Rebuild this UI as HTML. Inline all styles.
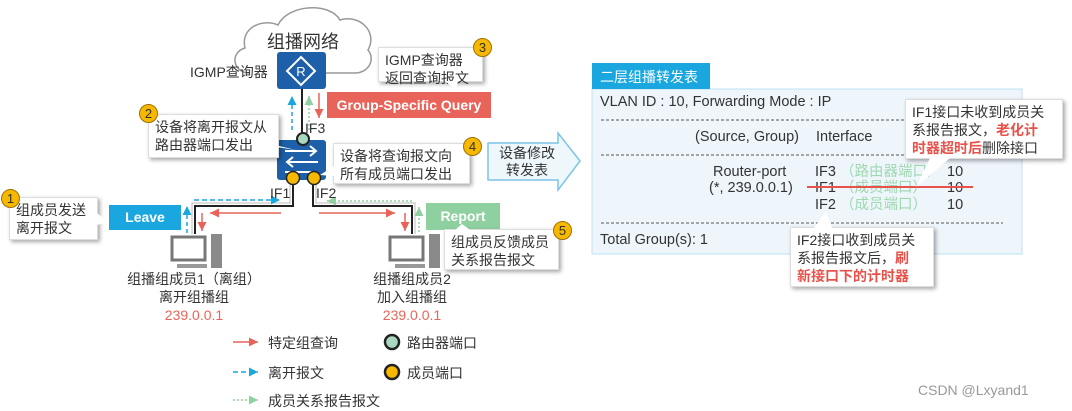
<!DOCTYPE html>
<html><head><meta charset="utf-8"><style>
body{margin:0;width:1072px;height:409px;background:#fff;position:relative;overflow:hidden;font-family:"Liberation Sans","Noto Sans CJK SC",sans-serif;color:#333}
.a{position:absolute;white-space:nowrap}
.co{position:absolute;background:#fff;box-shadow:2px 2px 4px rgba(0,0,0,.35);border:1px solid #ddd;font-size:14px;line-height:18px;padding:3px 6px;color:#333;box-sizing:border-box}
.num{position:absolute;width:17px;height:17px;border-radius:50%;background:#f6b800;border:1px solid #a07000;font-size:13px;line-height:17px;text-align:center;color:#333;z-index:3}
.red{color:#e8524a;font-weight:bold}
.g{color:#9fd8b0}
.t{font-size:14.5px;position:absolute;white-space:nowrap;line-height:17px}
</style></head><body>
<svg width="1072" height="409" style="position:absolute;left:0;top:0">
<defs>
<marker id="mr" markerWidth="8" markerHeight="8" refX="6" refY="3" orient="auto"><path d="M0,0L6,3L0,6z" fill="#e8645a"/></marker>
<marker id="mb" markerWidth="8" markerHeight="8" refX="6" refY="3" orient="auto"><path d="M0,0L6,3L0,6z" fill="#1aa7e0"/></marker>
<marker id="mg" markerWidth="8" markerHeight="8" refX="6" refY="3" orient="auto"><path d="M0,0L6,3L0,6z" fill="#8fd0a0"/></marker>
</defs>
<path d="M250,73 C232,73 230,52 245,48 C240,28 262,18 278,25 C288,4 330,2 340,20 C360,14 378,32 368,50 C376,60 368,73 355,73 L326,73" fill="#fff" stroke="#999" stroke-width="1.5"/>
<rect x="277" y="52" width="49" height="37" rx="3" fill="#1d5fa8"/>
<path d="M301,57L315,71L301,85L287,71z" fill="none" stroke="#fff" stroke-width="2"/>
<text x="301" y="76" font-size="13" fill="#fff" text-anchor="middle" font-family="Liberation Sans">R</text>
<line x1="302" y1="89" x2="302" y2="134" stroke="#222" stroke-width="2"/>
<line x1="292" y1="130" x2="292" y2="96" stroke="#1aa7e0" stroke-width="1.5" stroke-dasharray="4,3" marker-end="url(#mb)"/>
<line x1="309" y1="130" x2="309" y2="96" stroke="#8fd0a0" stroke-width="1.5" stroke-dasharray="2,2" marker-end="url(#mg)"/>
<line x1="319" y1="93" x2="319" y2="118" stroke="#e8645a" stroke-width="1.5" marker-end="url(#mr)"/>
<rect x="277" y="140" width="49" height="40" rx="3" fill="#1d5fa8"/>
<path d="M285,151h31M310,146l6,5l-6,5M318,162h-31M293,157l-6,5l6,5M285,172h31" stroke="#fff" stroke-width="2" fill="none"/>
<circle cx="303" cy="139" r="6" fill="#a9d8c0" stroke="#222" stroke-width="2"/>
<circle cx="293" cy="178" r="6.5" fill="#f6b800" stroke="#222" stroke-width="1.5"/>
<circle cx="314" cy="178" r="6.5" fill="#f6b800" stroke="#222" stroke-width="1.5"/>
<path d="M293,185V206H195V234" fill="none" stroke="#222" stroke-width="2"/>
<path d="M290,185V203H192V234" fill="none" stroke="#bbb" stroke-width="1"/>
<path d="M313,185V206H412V234" fill="none" stroke="#222" stroke-width="2"/>
<path d="M316,185V203H415V234" fill="none" stroke="#bbb" stroke-width="1"/>
<line x1="194" y1="200" x2="280" y2="200" stroke="#1aa7e0" stroke-width="1.5" stroke-dasharray="5,3" marker-end="url(#mb)"/>
<line x1="187" y1="233" x2="187" y2="206" stroke="#1aa7e0" stroke-width="1.5" stroke-dasharray="4,3" marker-end="url(#mb)"/>
<line x1="281" y1="213" x2="210" y2="213" stroke="#e8645a" stroke-width="1.5" marker-end="url(#mr)"/>
<line x1="202" y1="213" x2="202" y2="231" stroke="#e8645a" stroke-width="1.5" marker-end="url(#mr)"/>
<line x1="319" y1="213" x2="395" y2="213" stroke="#e8645a" stroke-width="1.5" marker-end="url(#mr)"/>
<line x1="405" y1="213" x2="405" y2="231" stroke="#e8645a" stroke-width="1.5" marker-end="url(#mr)"/>
<line x1="412" y1="201" x2="327" y2="201" stroke="#8fd0a0" stroke-width="1.5" stroke-dasharray="2,2" marker-end="url(#mg)"/>
<line x1="419" y1="232" x2="419" y2="207" stroke="#8fd0a0" stroke-width="1.5" stroke-dasharray="2,2" marker-end="url(#mg)"/>
<g fill="#fff" stroke="#777" stroke-width="3">
<rect x="172" y="237" width="33" height="23"/>
<rect x="390" y="237" width="33" height="23"/>
</g>
<rect x="211" y="234" width="11" height="34" fill="#8a8a8a"/><rect x="429" y="234" width="11" height="34" fill="#8a8a8a"/>
<rect x="177" y="264" width="30" height="4" fill="#999"/><rect x="395" y="264" width="30" height="4" fill="#999"/>
<path d="M488,143H558V133L580,161L558,190V180H488z" fill="#eef7fc" stroke="#7cc4e8" stroke-width="1.5"/>
<line x1="233" y1="342" x2="258" y2="342" stroke="#e8645a" stroke-width="1.5" marker-end="url(#mr)"/>
<line x1="233" y1="372" x2="258" y2="372" stroke="#1aa7e0" stroke-width="1.5" stroke-dasharray="5,3" marker-end="url(#mb)"/>
<line x1="233" y1="400" x2="258" y2="400" stroke="#8fd0a0" stroke-width="1.5" stroke-dasharray="2,2" marker-end="url(#mg)"/>
<circle cx="392" cy="342" r="7" fill="#a9d8c0" stroke="#222" stroke-width="2.5"/>
<circle cx="392" cy="372" r="7" fill="#f6b800" stroke="#222" stroke-width="2.5"/>
<rect x="592" y="89" width="430" height="165" fill="#eef6fc" stroke="#bde0f5"/>
<rect x="592" y="63" width="118" height="26" fill="#1aa7e0"/>
<g stroke="#555" stroke-dasharray="3,2"><line x1="601" y1="120" x2="1003" y2="120"/><line x1="601" y1="155" x2="1003" y2="155"/><line x1="601" y1="223" x2="1003" y2="223"/></g>
</svg>

<div class="a" style="left:267px;top:28px;font-size:18px;color:#333">组播网络</div>
<div class="a" style="left:190px;top:62px;font-size:14px">IGMP查询器</div>
<div class="co" style="left:378px;top:47px;width:105px;height:35px">IGMP查询器<br>返回查询报文</div>
<div class="num" style="left:473px;top:38px">3</div>
<div class="a" style="left:327px;top:92px;width:164px;height:26px;background:#e8645a;color:#fff;font-weight:bold;font-size:14px;line-height:26px;text-align:center">Group-Specific Query</div>
<div class="a" style="left:305px;top:120px;font-size:14px">IF3</div>
<div class="co" style="left:148px;top:114px;width:131px;height:44px">设备将离开报文从<br>路由器端口发出</div>
<div class="num" style="left:139px;top:104px">2</div>
<div class="co" style="left:333px;top:143px;width:137px;height:41px">设备将查询报文向<br>所有成员端口发出</div>
<div class="num" style="left:463px;top:137px">4</div>
<div class="a" style="left:497px;top:145px;font-size:14px;line-height:17px;text-align:center;width:60px">设备修改<br>转发表</div>
<div class="a" style="left:270px;top:185px;font-size:14px">IF1</div>
<div class="a" style="left:316px;top:185px;font-size:14px">IF2</div>
<div class="co" style="left:9px;top:197px;width:89px;height:43px">组成员发送<br>离开报文</div>
<div class="num" style="left:1px;top:189px">1</div>
<div class="a" style="left:109px;top:205px;width:72px;height:25px;background:#1aa7e0;color:#fff;font-weight:bold;font-size:14px;line-height:25px;text-align:center">Leave</div>
<div class="a" style="left:426px;top:203px;width:74px;height:27px;background:#8fd0a0;color:#fff;font-weight:bold;font-size:14px;line-height:27px;text-align:center">Report</div>
<div class="co" style="left:444px;top:229px;width:115px;height:41px">组成员反馈成员<br>关系报告报文</div>
<div class="num" style="left:553px;top:221px">5</div>
<div class="a" style="left:114px;top:270px;width:160px;text-align:center;font-size:14px;line-height:18px">组播组成员1（离组）<br>离开组播组<br><span style="color:#e8645a">239.0.0.1</span></div>
<div class="a" style="left:352px;top:270px;width:120px;text-align:center;font-size:14px;line-height:18px">组播组成员2<br>加入组播组<br><span style="color:#e8645a">239.0.0.1</span></div>
<div class="a" style="left:268px;top:333px;font-size:14px">特定组查询</div>
<div class="a" style="left:268px;top:363px;font-size:14px">离开报文</div>
<div class="a" style="left:268px;top:391px;font-size:14px">成员关系报告报文</div>
<div class="a" style="left:407px;top:333px;font-size:14px">路由器端口</div>
<div class="a" style="left:407px;top:363px;font-size:14px">成员端口</div>

<div class="a" style="left:600px;top:67px;font-size:14px;color:#fff">二层组播转发表</div>
<div class="t" style="left:600px;top:94px">VLAN ID : 10, Forwarding Mode : IP</div>
<div class="t" style="left:695px;top:129px">(Source, Group)</div>
<div class="t" style="left:816px;top:129px">Interface</div>
<div class="t" style="left:713px;top:164px">Router-port</div>
<div class="t" style="left:709px;top:180px">(*, 239.0.0.1)</div>
<div class="t" style="left:815px;top:164px">IF3 <span class="g">（路由器端口）</span></div>
<div class="t" style="left:815px;top:180px">IF1 <span class="g">（成员端口）</span></div>
<div class="t" style="left:815px;top:197px">IF2 <span class="g">（成员端口）</span></div>
<div class="t" style="left:947px;top:164px">10</div>
<div class="t" style="left:947px;top:180px">10</div>
<div class="t" style="left:947px;top:197px">10</div>
<div class="a" style="left:807px;top:186px;width:166px;height:2px;background:#e8524a"></div>
<div class="t" style="left:600px;top:232px">Total Group(s): 1</div>
<div class="co" style="left:905px;top:99px;width:158px;height:60px">IF1接口未收到成员关<br>系报告报文，<span class="red">老化计<br>时器超时后</span>删除接口</div>
<div class="co" style="left:790px;top:227px;width:144px;height:60px">IF2接口收到成员关<br>系报告报文后，<span class="red">刷<br>新接口下的计时器</span></div>
<div class="a" style="left:918px;top:382px;font-size:14px;color:#999">CSDN @Lxyand1</div>
<svg width="1072" height="409" style="position:absolute;left:0;top:0;z-index:4">
<g fill="#fff">
<path d="M445,81L458,81L456,90z"/>
<path d="M270,146L279,146L296,150z"/>
<path d="M334,166L334,176L320,175z"/>
<path d="M97,213L97,225L108,222z"/>
<path d="M455,230L470,230L462,224z"/>
<path d="M930,158L950,158L916,187z"/>
<path d="M814,228L832,228L826,211z"/>
</g>
</svg>
</body></html>
